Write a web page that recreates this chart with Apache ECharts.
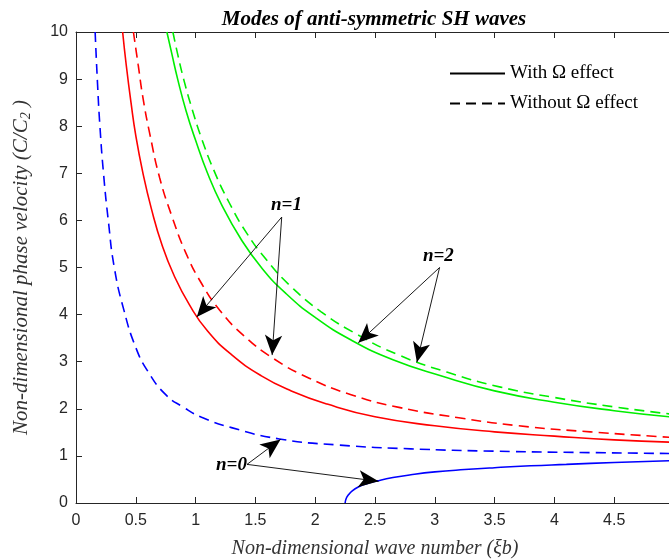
<!DOCTYPE html>
<html>
<head>
<meta charset="utf-8">
<script src="https://cdn.jsdelivr.net/npm/echarts@6/dist/echarts.min.js"></script>
<style>
  html, body { margin: 0; padding: 0; background: #fff; }
  #chart { width: 669px; height: 560px; }
</style>
</head>
<body>
<div id="chart"></div>
<script>
// n=0, without Omega (blue dashed)
const blueDashX = [0.16, 0.18, 0.2, 0.23, 0.27, 0.32, 0.4, 0.5, 0.6, 0.75, 0.9, 1.05, 1.3, 1.7, 2.2, 2.8, 3.5, 4.3, 5.0]
const blueDashY = [10, 8.9, 8.0, 7.0, 6.0, 5.0, 4.1, 3.3, 2.8, 2.3, 2.03, 1.82, 1.6, 1.36, 1.23, 1.15, 1.1, 1.07, 1.05]
// n=0, with Omega (blue solid)
const blueSolidX = [2.25, 2.26, 2.28, 2.31, 2.36, 2.43, 2.52, 2.65, 2.8, 3.0, 3.25, 3.5, 3.8, 4.1, 4.5, 5.0]
const blueSolidY = [0, 0.1, 0.18, 0.26, 0.34, 0.41, 0.47, 0.54, 0.6, 0.66, 0.71, 0.75, 0.79, 0.82, 0.86, 0.9]
// n=1, with Omega (red solid)
const redSolidX = [0.39, 0.42, 0.46, 0.5, 0.56, 0.63, 0.72, 0.82, 0.95, 1.1, 1.3, 1.55, 1.8, 2.1, 2.5, 3.0, 3.5, 4.0, 4.5, 5.0]
const redSolidY = [10, 9.3, 8.5, 7.8, 7.0, 6.25, 5.47, 4.83, 4.2, 3.65, 3.15, 2.7, 2.38, 2.1, 1.83, 1.64, 1.51, 1.42, 1.34, 1.29]
// n=1, without Omega (red dashed)
const redDashX = [0.48, 0.52, 0.56, 0.62, 0.7, 0.8, 0.92, 1.05, 1.2, 1.4, 1.65, 1.95, 2.3, 2.7, 3.2, 3.7, 4.3, 5.0]
const redDashY = [10, 9.3, 8.6, 7.8, 6.9, 6.1, 5.3, 4.66, 4.1, 3.56, 3.07, 2.65, 2.3, 2.03, 1.81, 1.64, 1.51, 1.39]
// n=2, with Omega (green solid)
const greenSolidX = [0.76, 0.8, 0.85, 0.92, 1.0, 1.1, 1.22, 1.38, 1.55, 1.75, 2.0, 2.3, 2.65, 3.05, 3.5, 4.0, 4.5, 5.0]
const greenSolidY = [10, 9.55, 9.0, 8.33, 7.7, 7.0, 6.32, 5.6, 5.0, 4.46, 3.94, 3.46, 3.04, 2.7, 2.38, 2.14, 1.96, 1.82]
// n=2, without Omega (green dashed)
const greenDashX = [0.81, 0.85, 0.9, 0.97, 1.05, 1.15, 1.28, 1.43, 1.6, 1.8, 2.05, 2.35, 2.7, 3.1, 3.55, 4.0, 4.5, 5.0]
const greenDashY = [10, 9.53, 9.0, 8.37, 7.74, 7.08, 6.38, 5.72, 5.14, 4.59, 4.06, 3.58, 3.14, 2.78, 2.46, 2.24, 2.04, 1.88]

const xTicks = [0, 0.5, 1, 1.5, 2, 2.5, 3, 3.5, 4, 4.5]
const yTicks = [0, 1, 2, 3, 4, 5, 6, 7, 8, 9, 10]

// annotation arrows: [from, to] in data units
const arrows = [
  [[1.72, 6.07], [1.01, 3.95]],
  [[1.72, 6.07], [1.64, 3.14]],
  [[3.04, 5.0], [2.36, 3.40]],
  [[3.04, 5.0], [2.85, 2.99]],
  [[1.43, 0.82], [1.71, 1.35]],
  [[1.43, 0.82], [2.53, 0.46]]
]
const notes = [
  { name: 'n=1', at: [1.76, 6.33] },
  { name: 'n=2', at: [3.03, 5.24] },
  { name: 'n=0', at: [1.3, 0.8] }
]

const zip = (xs, ys) => xs.map((x, i) => [x, ys[i]])
const serif = 'Liberation Serif'
const axisColor = '#262626'
const dash = [10, 6]

const curve = (data, color, dashed) => ({
  type: 'line',
  data,
  showSymbol: false,
  smooth: 0.5,
  silent: true,
  lineStyle: { color, width: 1.6, type: dashed ? dash : 'solid' },
  z: 3
})

const chart = echarts.init(document.getElementById('chart'))
chart.setOption({
  animation: false,
  title: {
    text: 'Modes of anti-symmetric SH waves',
    left: 369,
    textAlign: 'center',
    top: 4,
    textStyle: { fontFamily: serif, fontSize: 21, fontStyle: 'italic', fontWeight: 'bold', color: '#000' }
  },
  legend: {
    data: ['With \u03A9 effect', 'Without \u03A9 effect'],
    orient: 'vertical',
    left: 444,
    top: 59,
    itemWidth: 55,
    itemHeight: 10,
    itemGap: 11,
    itemStyle: { color: 'rgba(0,0,0,0)', borderWidth: 0, opacity: 0 },
    textStyle: { fontFamily: serif, fontSize: 19, color: '#000' }
  },
  grid: { left: 76, top: 32, width: 598, height: 471, outerBoundsMode: 'none', containLabel: false },
  xAxis: [
    {
      type: 'value',
      min: 0,
      max: 5,
      interval: 0.5,
      name: 'Non-dimensional wave number (\u03BEb)',
      nameLocation: 'middle',
      nameGap: 36,
      nameTextStyle: { fontFamily: serif, fontSize: 20, fontStyle: 'italic', color: '#333' },
      axisLine: { lineStyle: { color: axisColor, width: 1 } },
      axisTick: { inside: true, length: 6, lineStyle: { color: axisColor } },
      axisLabel: {
        fontFamily: 'Liberation Sans',
        fontSize: 16,
        color: axisColor,
        margin: 10,
        formatter: (v) => (xTicks.includes(v) ? String(v) : '')
      },
      splitLine: { show: false }
    },
    {
      type: 'value',
      position: 'top',
      min: 0,
      max: 5,
      interval: 0.5,
      axisLine: { lineStyle: { color: axisColor, width: 1 } },
      axisTick: { inside: true, length: 6, lineStyle: { color: axisColor } },
      axisLabel: { show: false },
      splitLine: { show: false }
    }
  ],
  yAxis: {
    type: 'value',
    min: 0,
    max: 10,
    interval: 1,
    name: '{t|Non-dimensional phase velocity (C/C}{s|2}{t| )}',
    nameLocation: 'middle',
    nameGap: 43,
    nameTextStyle: {
      rich: {
        t: { fontFamily: serif, fontSize: 21, fontStyle: 'italic', color: '#333' },
        s: { fontFamily: serif, fontSize: 14, fontStyle: 'italic', color: '#333', verticalAlign: 'bottom', padding: [9, 0, 0, 0] }
      }
    },
    axisLine: { show: true, lineStyle: { color: axisColor, width: 1 } },
    axisTick: { show: true, inside: true, length: 6, lineStyle: { color: axisColor } },
    axisLabel: {
      fontFamily: 'Liberation Sans',
      fontSize: 16,
      color: axisColor,
      margin: 8,
      formatter: (v) => (yTicks.includes(v) ? String(v) : '')
    },
    splitLine: { show: false }
  },
  series: [
    curve(zip(blueDashX, blueDashY), '#0000ff', true),
    curve(zip(blueSolidX, blueSolidY), '#0000ff', false),
    curve(zip(redSolidX, redSolidY), '#ff0000', false),
    curve(zip(redDashX, redDashY), '#ff0000', true),
    curve(zip(greenSolidX, greenSolidY), '#00ee00', false),
    curve(zip(greenDashX, greenDashY), '#00ee00', true),
    {
      name: 'With \u03A9 effect',
      type: 'line',
      data: [],
      symbol: 'none',
      itemStyle: { color: '#000' },
      lineStyle: { color: '#000', width: 1.6, type: 'solid' }
    },
    {
      name: 'Without \u03A9 effect',
      type: 'line',
      data: [],
      symbol: 'none',
      itemStyle: { color: '#000' },
      lineStyle: { color: '#000', width: 1.6, type: dash }
    },
    {
      name: 'notes',
      type: 'line',
      data: [],
      silent: true,
      markLine: {
        silent: true,
        symbol: ['none', 'arrow'],
        symbolSize: [13, 20],
        label: { show: false },
        lineStyle: { color: '#000', width: 0.9, type: 'solid' },
        data: arrows.map(([a, b]) => [{ coord: a }, { coord: b }])
      },
      markPoint: {
        silent: true,
        symbol: 'circle',
        symbolSize: 1,
        itemStyle: { color: 'rgba(0,0,0,0)' },
        label: {
          show: true,
          position: 'inside',
          formatter: '{b}',
          fontFamily: serif,
          fontSize: 19,
          fontStyle: 'italic',
          fontWeight: 'bold',
          color: '#000'
        },
        data: notes.map((n) => ({ name: n.name, coord: n.at }))
      }
    }
  ]
})
</script>
</body>
</html>
